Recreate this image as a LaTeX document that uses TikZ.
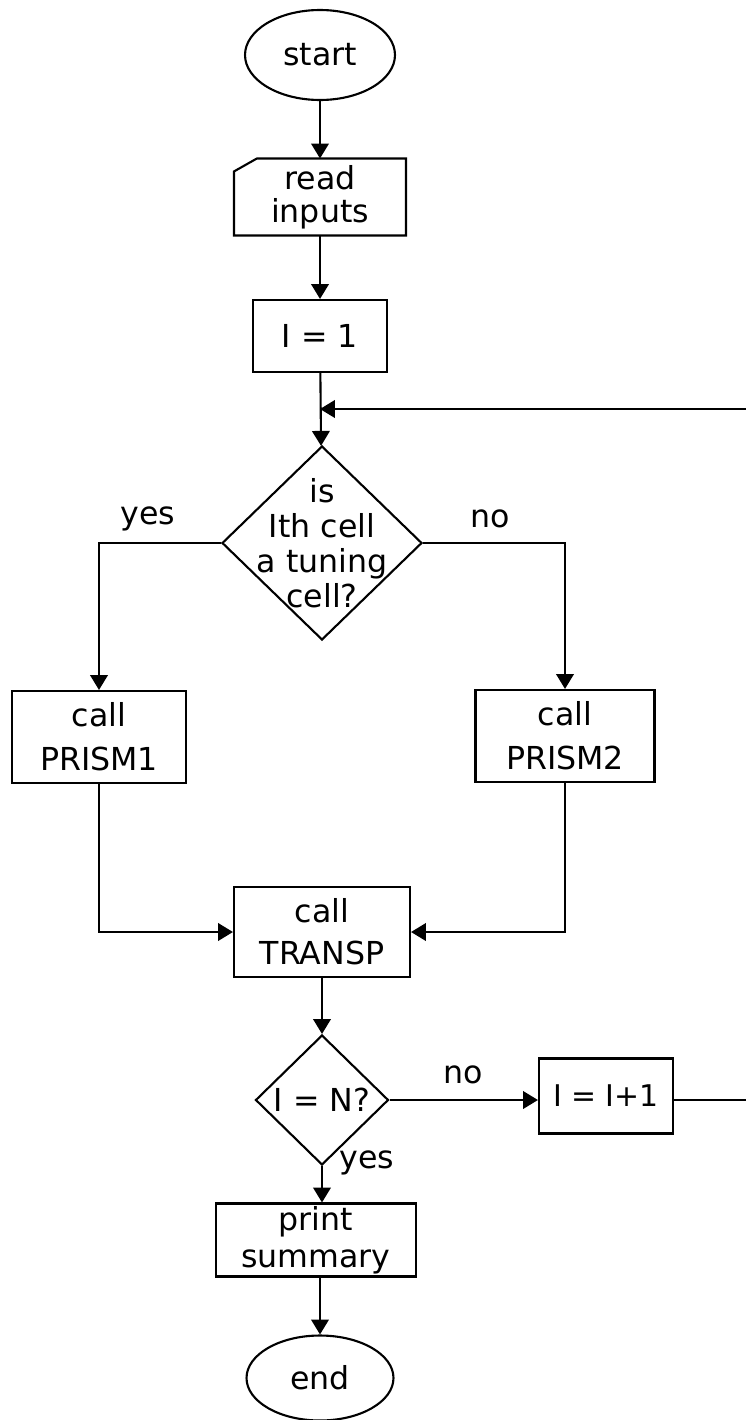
\documentclass[tikz,border=0pt]{standalone}
\usepackage{fontspec}
\setmainfont{DejaVu Sans}
\usepackage{tikz}
\usetikzlibrary{shapes,arrows.meta,positioning,calc}
\tikzstyle{terminal} = [ellipse, draw, inner sep=0pt]
\tikzstyle{process} = [rectangle, draw, align=center, inner sep=0pt]
\tikzstyle{decision} = [diamond, draw, inner sep=0pt]
\tikzstyle{card} = [rectangle, align=center, inner sep=0pt]

\begin{document}
\begin{tikzpicture}[x=0.02cm, y=-0.02cm, line width=1.2pt,
    font=\fontsize{18}{21}\selectfont,
    >={Triangle[length=8.5pt,width=10pt]}]
    \useasboundingbox (0,0) rectangle (745,1420);
    % main column
    \node[terminal, minimum width=3cm, minimum height=1.8cm] (start) at (320,55) {start};
    \node[card, minimum width=3.4cm, minimum height=1.5cm] (read) at (320,197) {read\\[-2pt]inputs};
    \draw ($(read.north west)+(0,-0.26cm)$) -- ($(read.north west)+(0.46cm,0)$) -- (read.north east) -- (read.south east) -- (read.south west) -- cycle;
    \node[process, minimum width=2.68cm, minimum height=1.44cm] (i1) at (320,336) {I = 1};
    \coordinate (join) at (320,409);
    \node[decision, minimum width=4cm, minimum height=3.88cm] (d1) at (322,543) {};
    \node[align=center, font=\fontsize{18}{20}\selectfont] (d1txt) at (d1.center) {is\\Ith cell\\a tuning\\cell?};
    \node (yes1) at (148,519) {yes};
    \node (no1) at (490,519) {no};
    % the two branches
    \node[process, minimum width=3.48cm, minimum height=1.84cm] (p1) at (99,737) {call\\[4pt]PRISM1};
    \node[process, minimum width=3.58cm, minimum height=1.84cm] (p2) at (565,736) {call\\[4pt]PRISM2};
    \node[process, minimum width=3.52cm, minimum height=1.8cm] (tr) at (322,932) {call\\[3pt]TRANSP};
    \node[decision, minimum width=2.66cm, minimum height=2.6cm] (d2) at (322,1100) {};
    \node (d2txt) at (d2.center) {I = N?};
    \node[process, minimum width=2.68cm, minimum height=1.5cm, font=\fontsize{17}{20}\selectfont] (inc) at (606,1096) {I = I+1};
    \node (no2) at (463,1075) {no};
    \node (yes2) at (367,1163) {yes};
    \node[process, minimum width=4cm, minimum height=1.46cm] (sum) at (316,1240) {print\\summary};
    \node[terminal, minimum width=2.94cm, minimum height=1.7cm] (end) at (320,1378) {end};
    % connectors
    \draw[->] (start) -- (read);
    \draw[->] (read) -- (i1);
    \draw[->] (i1) -- (d1);
    \draw[->] (d1.west) -| (p1.north);
    \draw[->] (d1.east) -| (p2.north);
    \draw[->] (p1.south) |- (tr.west);
    \draw[->] (p2.south) |- (tr.east);
    \draw[->] (tr) -- (d2);
    \draw[->] (d2.east) -- (d2.east -| inc.west);
    \draw[->] (d2.south) -- (d2.south |- sum.north);
    \draw[->] (sum.south -| end.north) -- (end.north);
    \draw[->] (inc.east |- d2.east) -- ++(120,0) |- (join);
\end{tikzpicture}
\end{document}
